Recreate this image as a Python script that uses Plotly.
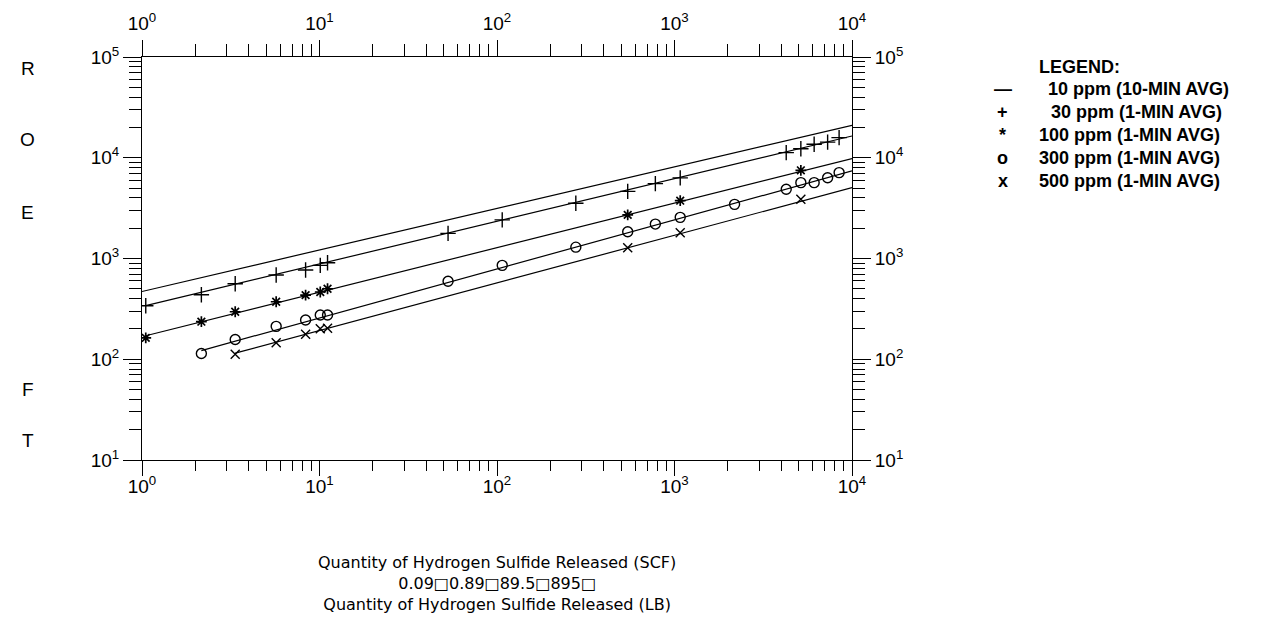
import plotly.graph_objects as go

# ---------------- data ----------------
x30 = [1.05, 2.16, 3.35, 5.7, 8.35, 10.1, 11.1, 53, 107, 278, 545, 780, 1077, 4260, 5150, 6120, 7290, 8460]
y30 = [340, 436, 562, 685, 768, 855, 908, 1775, 2420, 3540, 4640, 5540, 6320, 11250, 12300, 13600, 14300, 15850]

x100 = [1.05, 2.16, 3.35, 5.7, 8.35, 10.1, 11.1, 545, 1077, 5150]
y100 = [163, 236, 296, 372, 433, 465, 501, 2710, 3750, 7500]

x300 = [2.16, 3.35, 5.7, 8.35, 10.1, 11.1, 53, 107, 278, 545, 780, 1077, 2180, 4260, 5150, 6120, 7290, 8460]
y300 = [114, 157, 212, 245, 275, 275, 594, 855, 1296, 1840, 2196, 2560, 3446, 4860, 5660, 5660, 6340, 7120]

x500 = [3.35, 5.7, 8.35, 10.1, 11.1, 545, 1077, 5150]
y500 = [112, 146, 177, 201, 203, 1281, 1805, 3870]

# fitted lines (end points)
line10_x, line10_y = [1.0, 10000], [470, 21000]
line30_x, line30_y = [1.05, 10000], [340, 16450]
line100_x, line100_y = [1.05, 10000], [171, 9800]
line300_x, line300_y = [2.16, 10000], [122, 7400]
line500_x, line500_y = [3.35, 10000], [115, 5050]

decade_vals = [1, 10, 100, 1000, 10000, 100000]
decade_text = ["10<sup>0</sup>", "10<sup>1</sup>", "10<sup>2</sup>", "10<sup>3</sup>",
               "10<sup>4</sup>", "10<sup>5</sup>"]
minor_vals = [m * 10 ** e for e in range(0, 5) for m in range(2, 10)]

legend_symbols = ["\u2014", "+", "*", "o", "x"]
legend_labels = ["10 ppm (10-MIN AVG)", "30 ppm (1-MIN AVG)", "100 ppm (1-MIN AVG)",
                 "300 ppm (1-MIN AVG)", "500 ppm (1-MIN AVG)"]

bottom_lines = ["Quantity of Hydrogen Sulfide Released (SCF)",
                "0.09\u25a10.89\u25a189.5\u25a1895\u25a1",
                "Quantity of Hydrogen Sulfide Released (LB)"]

# ---------------- layout geometry (page pixels) ----------------
OFF = 8                      # default body margin of the html page
W, H = 1275, 624
FW, FH = W - OFF, H - OFF
L, R, T, B = 141.5, 852.0, 57.0, 460.0
FONT = "Liberation Sans, Arial, Helvetica, sans-serif"
WIDE_FONT = "DejaVu Sans, Liberation Sans, Arial, sans-serif"


def px(xp):
    return (xp - L) / (R - L)


def py(yp):
    return (B - yp) / (B - T)


fig = go.Figure()

line_style = dict(color="black", width=1.2)
for lx, ly in [(line30_x, line30_y), (line100_x, line100_y),
               (line300_x, line300_y), (line500_x, line500_y)]:
    fig.add_trace(go.Scatter(x=lx, y=ly, mode="lines", line=line_style,
                             showlegend=False, hoverinfo="skip"))
# 10 ppm line drawn on the overlay axes (identical ranges) so they are rendered
fig.add_trace(go.Scatter(x=line10_x, y=line10_y, mode="lines", line=line_style,
                         xaxis="x2", yaxis="y2", showlegend=False, hoverinfo="skip"))

mk_line = dict(color="black", width=1.4)
fig.add_trace(go.Scatter(x=x30, y=y30, mode="markers", showlegend=False,
                         marker=dict(symbol="cross-thin", size=11, color="black", line=mk_line)))
fig.add_trace(go.Scatter(x=x100, y=y100, mode="markers", showlegend=False,
                         marker=dict(symbol="asterisk", size=9, color="black",
                                     line=dict(color="black", width=1.7))))
fig.add_trace(go.Scatter(x=x300, y=y300, mode="markers", showlegend=False,
                         marker=dict(symbol="circle-open", size=10, color="black", line=mk_line)))
fig.add_trace(go.Scatter(x=x500, y=y500, mode="markers", showlegend=False,
                         marker=dict(symbol="x-thin", size=9, color="black", line=mk_line)))

tickfont = dict(family=FONT, size=19, color="black")


def axis_common(rng):
    return dict(type="log", range=rng, tickmode="array", tickvals=decade_vals, ticktext=decade_text,
                ticks="outside", tickcolor="black", tickwidth=1, showline=True, linecolor="black",
                linewidth=1, showgrid=False, zeroline=False, tickfont=tickfont, automargin=False,
                minor=dict(tickmode="array", tickvals=minor_vals, ticks="outside", tickcolor="black",
                           tickwidth=1, showgrid=False))


xa = axis_common([0, 4]); xa.update(ticklen=15, side="bottom", anchor="y", ticklabelstandoff=-6)
xa["minor"].update(ticklen=10)
xa2 = axis_common([0, 4]); xa2.update(ticklen=16, side="top", overlaying="x", anchor="y",
                                      ticklabelstandoff=2)
xa2["minor"].update(ticklen=12)
ya = axis_common([1, 5]); ya.update(ticklen=18, side="left", anchor="x")
ya["minor"].update(ticklen=12)
ya2 = axis_common([1, 5]); ya2.update(ticklen=18, side="right", overlaying="y", anchor="x")
ya2["minor"].update(ticklen=12)

annotations = []
# vertical "ROE FT" letters
for letter, yp in [("R", 68), ("O", 139), ("E", 212), ("F", 389), ("T", 440)]:
    annotations.append(dict(text=letter, x=px(27), y=py(yp), xref="paper", yref="paper",
                            showarrow=False, xanchor="center", yanchor="middle",
                            font=dict(family=FONT, size=19, color="black")))

# bottom titles (one block of three lines)
annotations.append(dict(text="<br>".join(bottom_lines), x=px(497), y=py(583.5), xref="paper",
                        yref="paper", showarrow=False, xanchor="center", yanchor="middle",
                        align="center", font=dict(family=WIDE_FONT, size=16, color="black")))

# legend block
lg_font = dict(family=FONT, size=18, color="black")
annotations.append(dict(text="<b>LEGEND:</b>", x=px(1037), y=py(67), xref="paper", yref="paper",
                        showarrow=False, xanchor="left", yanchor="middle", font=lg_font))
row_y = [89, 112, 135, 158, 181]
text_x = [1046, 1049, 1037, 1037, 1037]
for sym, lab, yp, tx in zip(legend_symbols, legend_labels, row_y, text_x):
    annotations.append(dict(text="<b>" + sym + "</b>", x=px(1003), y=py(yp), xref="paper", yref="paper",
                            showarrow=False, xanchor="center", yanchor="middle", font=lg_font))
    annotations.append(dict(text="<b>" + lab + "</b>", x=px(tx), y=py(yp), xref="paper", yref="paper",
                            showarrow=False, xanchor="left", yanchor="middle", font=lg_font))

fig.update_layout(
    width=FW, height=FH,
    margin=dict(l=L - OFF, r=FW - (R - OFF), t=T - OFF, b=FH - (B - OFF), pad=0, autoexpand=False),
    paper_bgcolor="white", plot_bgcolor="white",
    xaxis=xa, xaxis2=xa2, yaxis=ya, yaxis2=ya2,
    annotations=annotations,
    showlegend=False,
    font=dict(family=FONT, color="black"),
)

fig.write_html("out.html")
